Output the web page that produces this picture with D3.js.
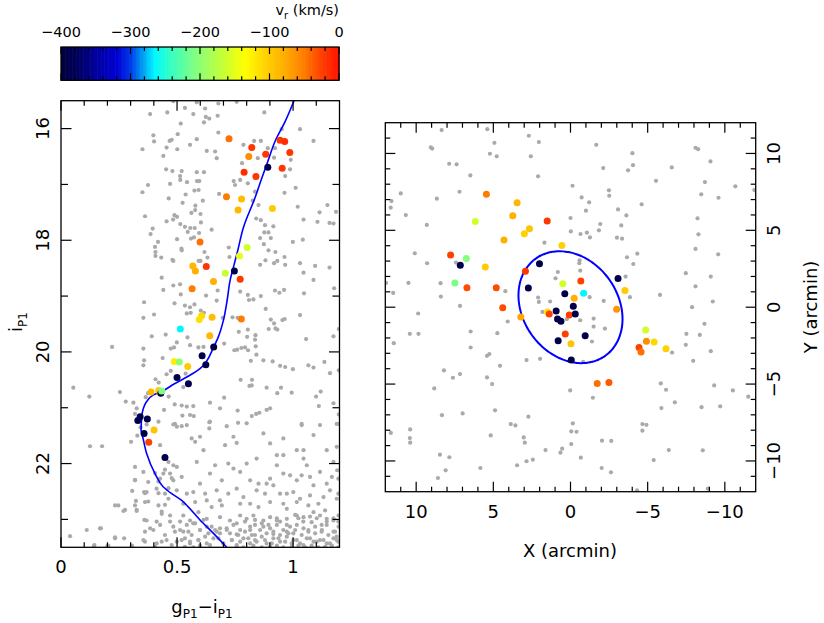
<!DOCTYPE html>
<meta charset="utf-8">
<script src="https://d3js.org/d3.v7.min.js"></script>
<style>
  body { margin: 0; background: #fff; }
  text { font-family: "DejaVu Sans", sans-serif; fill: #000; }
</style>
<div id="chart"></div>
<script>

// ---- data ----
// CMD: radial-velocity members [g-i, i, v_r]
var cmdMembers = [
  [0.724,16.18,-45],[0.822,16.34,-20],[0.809,16.50,-60],[0.882,16.46,-20],[0.944,16.21,-20],
  [0.964,16.23,-15],[0.986,16.43,-20],[0.891,16.69,-385],[0.953,16.71,-20],[0.789,16.78,-15],
  [0.840,16.86,-20],[0.713,17.22,-50],[0.778,17.26,-90],[0.763,17.46,-85],[0.911,17.43,-100],
  [0.599,18.03,-45],[0.802,18.13,-160],[0.769,18.28,-150],[0.568,18.46,-85],[0.579,18.55,-80],
  [0.626,18.47,-20],[0.708,18.59,-165],[0.747,18.55,-390],[0.772,18.70,-20],[0.657,18.74,-80],
  [0.565,18.87,-50],[0.606,19.35,-110],[0.596,19.42,-115],[0.651,19.38,-90],[0.777,19.41,-50],
  [0.514,19.59,-265],[0.641,19.71,-85],[0.658,19.91,-390],[0.608,20.07,-390],[0.624,20.23,-390],
  [0.488,20.17,-125],[0.510,20.18,-200],[0.546,20.26,-100],[0.500,20.46,-390],[0.549,20.57,-390],
  [0.388,20.72,-85],[0.421,20.69,-100],[0.430,20.74,-390],[0.434,20.70,-205],[0.341,21.16,-390],
  [0.331,21.23,-390],[0.372,21.20,-390],[0.401,21.40,-95],[0.358,21.46,-390],[0.378,21.62,-25],
  [0.448,21.89,-390]
];

// CMD: field stars [g-i, i]
var cmdField = [
  [0.484,15.51],[0.585,15.53],[0.757,15.52],[0.534,15.63],[0.621,15.64],[0.678,15.55],[0.384,15.74],
  [0.458,15.71],[0.570,15.74],[0.624,15.79],[0.639,15.82],[0.675,15.77],[0.616,15.89],[0.516,15.91],
  [0.876,15.71],[0.951,16.01],[1.030,16.01],[1.088,16.22],[0.398,16.12],[0.401,16.23],[0.477,16.20],
  [0.468,16.22],[0.503,16.10],[0.585,16.19],[0.556,16.29],[0.455,16.34],[0.501,16.37],[0.351,16.37],
  [0.628,16.40],[0.664,16.41],[0.671,16.53],[0.441,16.49],[0.678,16.07],[0.786,16.29],[0.832,16.22],
  [0.861,16.22],[0.891,16.35],[0.922,16.35],[0.780,16.62],[0.848,16.53],[0.918,16.52],[0.990,16.56],
  [0.966,16.85],[0.987,16.73],[0.453,16.73],[0.480,16.76],[0.520,16.76],[0.513,16.85],[0.585,16.78],
  [0.616,16.78],[0.514,16.92],[0.586,16.94],[0.596,16.94],[0.543,16.96],[0.375,17.01],[0.470,16.99],
  [0.744,16.94],[0.750,17.01],[0.772,16.92],[0.805,16.98],[0.351,17.14],[0.537,17.18],[0.575,17.11],
  [0.593,17.10],[0.681,17.17],[0.836,17.13],[0.963,17.15],[1.011,17.06],[0.464,17.25],[0.524,17.33],
  [0.579,17.38],[0.611,17.29],[0.362,17.57],[0.489,17.55],[0.500,17.58],[0.455,17.66],[0.483,17.63],
  [0.514,17.71],[0.534,17.76],[0.562,17.51],[0.578,17.46],[0.601,17.53],[0.603,17.68],[0.546,17.85],
  [0.557,17.78],[0.576,17.78],[0.649,17.81],[0.395,17.79],[0.386,17.89],[0.418,18.03],[0.407,18.21],
  [0.407,18.28],[0.405,18.12],[0.432,18.31],[0.480,18.35],[0.500,17.98],[0.560,17.97],[0.573,17.95],
  [0.595,17.87],[0.519,18.15],[0.520,18.18],[0.618,18.21],[0.631,18.31],[0.601,18.37],[0.723,18.13],
  [0.726,18.30],[0.841,17.61],[0.861,17.64],[0.879,17.73],[0.876,17.86],[0.858,17.96],[0.904,17.96],
  [0.894,17.86],[0.915,17.75],[0.874,18.07],[0.881,18.36],[0.894,18.18],[0.932,18.37],[0.963,18.30],
  [0.924,18.21],[0.999,18.03],[1.045,17.63],[1.042,17.99],[1.020,17.40],[1.105,17.67],[1.148,17.37],
  [1.157,17.69],[1.174,17.70],[1.185,17.49],[1.114,17.50],[0.851,17.37],[0.826,17.29],
  [0.484,18.37],[0.593,18.37],[0.858,18.44],[0.918,18.41],[0.966,18.44],[1.030,18.41],[1.095,18.46],
  [1.157,18.49],[0.434,18.67],[0.484,18.81],[0.513,18.79],[0.516,18.97],[0.441,18.89],[0.675,18.90],
  [0.625,18.99],[0.772,18.92],[0.805,18.98],[0.810,19.07],[0.829,19.06],[0.861,19.00],[0.882,19.23],
  [0.922,18.90],[0.941,18.94],[0.961,18.89],[1.045,18.58],[1.047,18.95],[1.088,18.71],[1.177,18.86],
  [0.358,19.11],[0.401,19.33],[0.355,19.39],[0.489,19.13],[0.534,19.17],[0.556,19.20],[0.575,19.15],
  [0.602,19.26],[0.671,19.08],[0.542,19.31],[0.559,19.30],[0.616,19.30],[0.697,19.39],[0.739,19.38],
  [0.761,19.39],[0.766,19.64],[0.805,19.60],[0.802,19.73],[0.838,19.70],[0.836,19.78],[0.904,19.42],
  [0.895,19.59],[0.918,19.49],[0.924,19.58],[0.954,19.43],[0.964,19.41],[0.932,19.60],[1.030,19.34],
  [1.056,19.77],[1.174,19.72],[1.197,19.59],[0.220,19.91],[0.355,19.94],[0.391,19.72],[0.451,19.69],
  [0.473,19.94],[0.487,19.92],[0.499,19.83],[0.545,19.74],[0.556,19.88],[0.592,19.92],[0.614,19.91],
  [0.703,19.85],[0.747,19.97],[0.759,19.96],[0.777,19.93],[0.793,19.92],[0.806,19.97],[0.839,19.90],
  [0.842,20.05],[0.818,20.16],[0.872,20.15],[0.912,20.17],[0.944,20.25],[0.966,20.27],[0.999,20.31],
  [1.066,20.24],[1.088,20.28],[1.135,20.18],[1.159,20.38],[1.197,20.33],[0.358,20.15],[0.438,20.11],
  [0.355,20.24],[0.407,20.49],[0.421,20.55],[0.455,20.40],[0.473,20.34],[0.537,20.39],[0.527,20.63],
  [0.254,20.72],[0.279,20.89],[0.122,20.80],[0.053,20.64],[0.326,21.01],[0.312,20.91],[0.365,20.81],
  [0.375,20.74],[0.464,20.80],[0.490,20.94],[0.520,20.96],[0.542,20.98],[0.570,20.97],[0.642,20.91],
  [0.639,21.26],[0.639,21.37],[0.685,21.01],[0.703,20.82],[0.774,20.50],[0.812,20.61],[0.822,20.60],
  [0.823,20.50],[0.886,20.64],[0.932,20.74],[0.948,20.64],[0.994,20.73],[1.119,20.71],[1.099,20.80],
  [1.174,20.92],[1.111,20.97],[0.855,21.09],[0.901,21.01],[0.886,21.04],[0.761,21.05],[0.763,21.27],
  [0.822,21.15],[0.841,21.11],[1.037,21.31],[1.197,21.12],[1.197,21.29],[0.523,21.14],[0.556,21.13],
  [0.572,21.15],[0.484,21.30],[0.499,21.34],[0.369,21.30],[0.343,21.35],[0.319,21.11],[0.542,21.31],
  [0.444,21.04],
  [0.125,21.69],[0.177,21.69],[0.039,23.30],[0.111,23.19],[0.168,23.16],[0.233,23.32],[0.272,23.34],
  [0.319,22.30],[0.323,22.67],[0.358,22.51],[0.319,22.75],[0.247,22.75],[0.276,22.83],[0.326,22.83],
  [0.142,23.48],[0.200,23.48],[0.306,23.48],[0.302,21.61],[0.329,21.50],[0.319,22.06],[0.355,22.15],
  [0.376,22.33],
  [0.420,21.25],[0.491,21.29],[0.520,21.33],[0.642,21.25],[0.714,21.33],[0.800,21.28],[1.037,21.29],
  [1.116,21.31],[1.188,21.29],[0.563,21.55],[0.599,21.52],[0.743,21.52],[0.872,21.46],[0.958,21.55],
  [1.088,21.49],
  [0.427,21.67],[0.578,21.61],[0.614,21.76],[0.707,21.67],[0.757,21.63],[0.901,21.64],[1.016,21.76],
  [1.045,21.76],[1.145,21.76],[1.188,21.70],[0.463,21.97],[0.484,22.03],[0.499,22.06],[0.585,21.97],
  [0.664,22.03],[0.721,22.00],[0.743,22.09],[0.800,22.00],[0.843,21.91],[0.930,21.85],[0.958,21.85],
  [0.930,22.03],[1.045,21.91],[1.059,22.03],[1.116,22.15],[1.174,21.97],[1.190,22.12],[0.441,22.18],
  [0.470,22.18],[0.484,22.30],[0.427,22.27],[0.520,22.24],[0.599,22.36],[0.642,22.18],[0.693,22.30],
  [0.772,22.15],[0.815,22.30],[0.851,22.36],[0.886,22.36],[0.901,22.27],[0.915,22.39],[0.958,22.18],
  [0.987,22.21],[1.016,22.30],[1.037,22.21],[1.073,22.24],[1.088,22.39],[1.145,22.36],[1.167,22.24],
  [1.195,22.27],[0.369,22.51],[0.412,22.45],[0.448,22.54],[0.499,22.48],[0.542,22.54],[0.570,22.51],
  [0.621,22.54],[0.671,22.48],[0.721,22.54],[0.757,22.45],[0.786,22.60],[0.843,22.48],[0.879,22.54],
  [0.944,22.54],[0.973,22.54],[1.001,22.51],[1.030,22.63],[1.073,22.57],[1.131,22.60],[1.159,22.48],
  [1.195,22.54],[0.362,22.69],[0.420,22.75],[0.463,22.63],[0.527,22.72],[0.578,22.69],[0.628,22.66],
  [0.649,22.78],[0.685,22.66],[0.693,22.75],[0.772,22.72],[0.815,22.72],[0.851,22.78],[0.901,22.69],
  [0.958,22.72],[0.973,22.81],[1.016,22.69],[1.066,22.75],[1.109,22.72],[1.138,22.84],[1.188,22.63],
  [0.369,23.02],[0.434,22.90],[0.470,22.93],[0.527,22.93],[0.556,23.02],[0.592,22.87],[0.628,22.99],
  [0.685,22.96],[0.728,23.02],[0.772,22.93],[0.800,22.99],[0.829,22.93],[0.872,23.02],[0.901,22.96],
  [0.930,23.02],[0.973,22.99],[1.016,22.93],[1.045,22.96],[1.088,22.87],[1.116,22.93],[1.145,22.99],
  [1.174,23.02],[1.196,22.93],[1.080,23.05],[0.384,23.16],[0.427,23.10],[0.484,23.13],[0.513,23.19],
  [0.549,23.22],[0.570,23.07],[0.599,23.19],[0.628,23.13],[0.664,23.19],[0.714,23.16],[0.743,23.10],
  [0.772,23.19],[0.815,23.19],[0.836,23.10],[0.872,23.13],[0.901,23.16],[0.930,23.10],[0.958,23.19],
  [0.987,23.13],[1.016,23.10],[1.045,23.16],[1.066,23.22],[1.095,23.13],[1.124,23.19],[1.145,23.10],
  [1.174,23.22],[1.196,23.13],[1.188,23.31],[0.355,23.37],[0.412,23.43],[0.455,23.37],[0.499,23.40],
  [0.534,23.34],[0.556,23.43],[0.592,23.37],[0.621,23.31],[0.642,23.46],[0.678,23.34],[0.700,23.43],
  [0.736,23.37],[0.757,23.46],[0.786,23.34],[0.815,23.43],[0.836,23.37],[0.865,23.31],[0.886,23.43],
  [0.915,23.34],[0.944,23.40],[0.973,23.31],[0.994,23.43],[1.016,23.37],[1.045,23.46],[1.073,23.34],
  [1.102,23.40],[1.131,23.37],[1.159,23.43],[1.188,23.37],[1.001,23.25],[0.973,23.22],[0.915,23.26],
  [0.836,23.28],[0.757,23.27],[0.685,23.25],
  [0.513,23.04],[0.542,23.10],[0.578,23.07],[0.614,23.01],[0.649,23.13],[0.685,23.16],[0.714,23.19],
  [0.757,23.07],[0.793,23.04],[0.815,23.13],[0.836,23.01],[0.865,23.07],[0.894,23.10],[0.930,22.98],
  [0.944,23.04],[0.973,23.10],[1.009,22.92],[1.023,22.98],[1.044,23.04],[1.073,22.95],[1.102,22.98],
  [1.123,23.10],[1.145,23.04],[1.174,22.98],[1.195,23.04],
  [0.527,23.22],[0.563,23.28],[0.599,23.19],[0.635,23.25],[0.671,23.22],[0.728,23.25],[0.764,23.28],
  [0.793,23.22],[0.822,23.28],[0.858,23.19],[0.886,23.25],[0.915,23.22],[0.944,23.28],[0.980,23.25],
  [1.009,23.19],[1.037,23.28],[1.066,23.19],[1.095,23.25],[1.123,23.22],[1.152,23.28],[1.181,23.22],
  [0.520,23.37],[0.556,23.40],[0.592,23.37],[0.628,23.43],[0.657,23.34],[0.736,23.37],[0.772,23.40],
  [0.807,23.34],[0.843,23.40],[0.879,23.37],[0.908,23.43],[0.937,23.34],[0.966,23.40],[1.001,23.37],
  [1.030,23.43],[1.059,23.34],[1.088,23.40],[1.116,23.37],[1.145,23.43],[1.174,23.34],[1.195,23.40],
  [0.534,23.49],[0.570,23.50],[0.599,23.47],[0.757,23.49],[0.786,23.50],[0.829,23.47],[0.865,23.50],
  [0.901,23.49],[0.930,23.47],[0.958,23.50],[0.994,23.49],[1.023,23.47],[1.052,23.50],[1.080,23.47],
  [1.109,23.50],[1.138,23.49],[1.167,23.47],[1.195,23.50],
  [0.319,22.29],[0.307,22.49],[0.362,22.53],[0.376,22.68],[0.233,22.75],[0.269,22.85],[0.326,22.85],
  [0.359,23.01],[0.398,23.19],[0.362,23.22],[0.172,23.16],[0.233,23.34],[0.144,23.46],[0.204,23.47],
  [0.305,23.47],[0.362,23.40],[0.405,23.49],[0.434,23.40],[0.477,23.46],[0.448,23.28],[0.491,23.22],
  [0.412,23.04],[0.434,22.86],[0.448,22.74],[0.470,23.04],[0.420,22.53],[0.420,22.32],[0.463,22.44],
  [0.405,22.17],[0.477,22.26],[0.448,22.11]
];

// isochrone [g-i, i]
var isochrone = [
  [1.004,15.50],[0.966,15.87],[0.922,16.23],[0.891,16.59],[0.865,16.89],[0.836,17.24],[0.786,17.77],
  [0.760,18.21],[0.745,18.45],
  [0.729,18.71],[0.716,19.07],[0.700,19.43],[0.678,19.73],[0.657,19.92],[0.625,20.18],[0.599,20.30],
  [0.542,20.45],[0.485,20.58],[0.442,20.69],[0.398,20.77],[0.369,20.89],[0.355,21.01],[0.348,21.16],
  [0.345,21.40],[0.352,21.52],[0.369,21.82],[0.405,22.18],[0.441,22.42],[0.477,22.54],[0.520,22.66],
  [0.549,22.78],[0.599,23.01],[0.657,23.25],[0.714,23.50]
];

// sky map: members [X, Y, v_r] (arcmin)
var mapMembers = [
  [5.45,7.34,-50],[3.46,6.79,-85],[6.17,5.58,-160],[3.74,5.95,-80],[1.51,5.60,-20],[2.66,5.10,-95],
  [2.99,4.78,-105],[4.31,4.37,-80],[0.56,4.02,-105],[7.77,3.40,-25],[6.75,3.16,-205],[7.14,2.73,-390],
  [5.52,2.62,-100],[2.01,2.83,-390],[2.92,2.34,-20],[7.49,1.58,-210],[6.71,1.27,-30],[4.81,1.27,-30],
  [2.73,1.25,-390],[0.50,1.53,-160],[-0.67,1.71,-25],[-3.08,1.86,-390],[0.37,0.88,-390],[-0.85,0.91,-265],
  [-3.53,1.08,-100],[-0.24,0.58,-80],[-0.18,0.06,-390],[4.39,-0.03,-30],[3.22,-0.63,-75],[0.93,-0.24,-390],
  [1.49,-0.31,-115],[1.38,-0.44,-25],[0.08,-0.50,-25],[-0.31,-0.44,-390],[-2.99,-0.13,-65],[0.84,-0.76,-390],
  [0.62,-0.91,-390],[0.34,-1.75,-25],[-0.95,-1.86,-390],[0.80,-2.19,-390],[-0.03,-2.38,-95],[-0.05,-3.44,-390],
  [-4.87,-1.49,-160],[-4.92,-2.21,-60],[-5.42,-2.27,-110],[-6.19,-2.71,-105],[-4.44,-2.62,-25],[-4.57,-2.92,-45],
  [-1.73,-4.96,-45],[-2.49,-4.89,-35]
];

// sky map: field stars [X, Y]
var mapField = [
  [8.35,11.52],[5.39,11.58],[2.70,11.15],[4.93,10.69],[2.05,10.74],[9.05,10.39],[8.96,10.32],[-1.67,10.56],
  [5.22,9.98],[4.78,9.81],[2.57,9.81],[-4.01,10.02],[7.86,9.33],[7.38,9.29],[-2.12,9.05],[-4.05,9.24],
  [-3.73,8.90],[-9.07,9.48],[-8.10,10.37],[-8.27,10.28],[6.49,8.57],[2.10,8.51],[-6.56,9.09],[-5.54,8.22],
  [-8.71,8.14],[-10.68,7.86],[-11.91,7.62],[11.00,7.40],[7.19,7.51],[-0.13,7.90],[-2.49,7.60],[-2.51,7.25],
  [-8.47,7.34],[-9.59,7.12],[11.60,6.90],[11.65,6.47],[8.66,7.06],[-0.72,7.14],[-1.21,6.82],[-1.00,6.28],
  [-4.61,6.69],[-3.08,6.36],[-3.62,5.97],[10.67,5.99],[9.31,5.35],[0.00,5.80],[-1.93,5.41],[-1.84,5.00],
  [-3.29,5.32],[-0.02,4.93],[-0.65,4.76],[-1.06,4.85],[-1.26,4.54],[-3.01,4.52],[-3.34,4.46],[-8.23,5.78],
  [-8.29,4.74],[-8.10,3.79],[-9.57,3.44],[10.09,3.51],[1.69,4.20],[-0.59,3.05],[-0.57,2.86],[-3.66,3.25],
  [-4.33,3.48],[-4.07,2.81],[9.29,2.86],[7.42,2.90],[10.50,1.58],[11.95,1.58],[8.42,1.56],[0.82,2.29],
  [-0.63,2.38],[0.97,1.88],[-3.57,1.99],[-7.47,2.21],[-8.10,1.36],[-9.09,1.99],[-5.80,0.80],[11.49,0.93],
  [8.40,0.69],[4.22,1.04],[2.10,0.63],
  [7.16,0.08],[9.87,-0.41],[10.41,-1.73],[9.85,-1.73],[11.45,-2.34],[6.47,-1.58],[6.47,-2.62],[4.74,-1.69],
  [4.07,-0.93],[5.41,-3.16],[5.26,-3.05],[4.57,-3.81],[2.85,-3.44],[1.97,-3.36],[2.05,0.34],[1.32,0.37],
  [1.82,-0.31],[0.24,-0.78],[-0.63,-0.85],[-1.50,-0.74],[-1.50,-1.26],[-2.23,-1.39],[-1.39,-2.23],[-0.82,-3.55],
  [-2.15,0.41],[-1.24,0.65],[-3.85,0.65],[-9.22,0.37],[-7.88,0.00],[-8.68,-1.08],[-7.51,-1.73],[-8.38,-1.80],
  [-7.47,-2.45],[-9.09,-2.86],[-7.95,-3.49],[-6.58,-2.95],[8.20,-4.11],[7.62,-4.59],[7.16,-4.35],[8.83,-5.28],
  [5.41,-4.57],[5.08,-5.00],[0.02,-5.41],[-1.45,-5.89],[-5.85,-4.96],[-6.19,-5.37],[-6.76,-6.19],[-5.89,-6.56],
  [-8.49,-6.50],[-9.70,-6.45],[-9.31,-5.09],[-10.52,-5.41],[-11.52,-5.82],[8.33,-7.02],[6.99,-6.91],[4.89,-6.71],
  [3.87,-7.60],[3.57,-7.69],[2.73,-7.12],[5.17,-8.34],[3.03,-8.47],[2.96,-8.81],[10.39,-7.95],[10.41,-8.51],
  [10.39,-8.81],[11.64,-8.18],[-0.15,-7.56],[-0.05,-8.08],[-0.39,-8.10],[-0.05,-8.90],[1.62,-9.29],[0.54,-9.20],
  [0.65,-9.46],[-0.67,-9.79],[-2.04,-8.68],[-2.64,-8.70],[-4.66,-7.60],[-4.92,-7.65],[-4.66,-8.03],[-5.39,-9.94],
  [-6.37,-9.29],[-8.57,-9.31],[2.85,-10.02],[2.44,-9.92],[3.46,-10.28],[5.84,-10.46],[8.46,-9.59],[7.85,-9.76],
  [8.09,-10.61],[8.59,-11.11],[-2.02,-10.46],[-2.62,-10.74],[-4.31,-11.91],[-8.90,-11.80]
];

// half-light ellipse (arcmin, degrees)
var ellA = 3.88, ellB = 3.09, ellPA = 35;

// tick values
var vTicks = [-400, -300, -200, -100, 0];
var cmdXTicks = [0, 0.5, 1];
var cmdYTicks = [16, 18, 20, 22];
var mapTicks = [-10, -5, 0, 5, 10];

// ---- scales ----
var svg = d3.select("#chart").append("svg")
  .attr("width", 824).attr("height", 623);

var xC = d3.scaleLinear().domain([0, 1.2]).range([61, 339.5]);
var yC = d3.scaleLinear().domain([15.5, 23.5]).range([100.7, 547.3]);
var xS = d3.scaleLinear().domain([12, -12]).range([385.3, 755.7]);
var yS = d3.scaleLinear().domain([-12, 12]).range([491.7, 122.7]);
var xV = d3.scaleLinear().domain([-400, 0]).range([61, 339]);

var color = d3.scaleLinear()
  .domain([-400, -375, -345, -320, -300, -285, -265, -245, -215, -190, -165, -135, -110, -80, -50, -25, 0])
  .range(["#00003c", "#000060", "#0000a8", "#0000d2", "#0038e8", "#0090f4", "#00f8ff", "#30ffc8",
          "#70ff90", "#a0ff60", "#c8ff30", "#ffff00", "#ffd800", "#ffb000", "#ff7c00", "#ff4000", "#ff1000"])
  .clamp(true);

var grey = "#aaaaaa";

// inner ticks on a frame side
function ticks(g, scale, vals, side, len, x0, y0) {
  g.selectAll(null).data(vals).enter().append("line")
    .attr("x1", function(d){ return side == "b" || side == "t" ? scale(d) : x0; })
    .attr("x2", function(d){ return side == "b" || side == "t" ? scale(d) : x0 + (side == "l" ? len : -len); })
    .attr("y1", function(d){ return side == "l" || side == "r" ? scale(d) : y0; })
    .attr("y2", function(d){ return side == "l" || side == "r" ? scale(d) : y0 + (side == "t" ? len : -len); })
    .attr("stroke", "#000").attr("stroke-width", 1.2);
}

// ---- colour bar ----
var bar = svg.append("g");
bar.selectAll("rect").data(d3.range(-400, 0, 2)).enter().append("rect")
  .attr("x", function(d){ return xV(d); })
  .attr("y", 47).attr("height", 33.3)
  .attr("width", xV(2) - xV(0) + 0.6)
  .attr("fill", function(d){ return color(d + 1); });
bar.append("rect").attr("x", 61).attr("y", 47).attr("width", 278).attr("height", 33.3)
  .attr("fill", "none").attr("stroke", "#000").attr("stroke-width", 1.3);
var vMinor = d3.range(-380, 0, 20).filter(function(d){ return d % 100 != 0; });
ticks(bar, xV, vMinor, "t", 4, 0, 47);
ticks(bar, xV, vMinor, "b", 4, 0, 80.3);
ticks(bar, xV, vTicks, "t", 7, 0, 47);
ticks(bar, xV, vTicks, "b", 7, 0, 80.3);
bar.selectAll("text.lab").data(vTicks).enter().append("text")
  .attr("x", function(d){ return xV(d); }).attr("y", 37)
  .attr("text-anchor", "middle").style("font-size", "14.5px")
  .text(d3.format("d"));
var vt = bar.append("text").attr("x", 339).attr("y", 15)
  .attr("text-anchor", "end").style("font-size", "14.5px");
vt.append("tspan").text("v");
vt.append("tspan").attr("dy", 4).style("font-size", "10px").text("r");
vt.append("tspan").attr("dy", -4).text(" (km/s)");

// ---- CMD panel ----
var cmd = svg.append("g");
cmd.append("clipPath").attr("id", "clipC").append("rect")
  .attr("x", 61).attr("y", 100.7).attr("width", 278.5).attr("height", 446.6);
var cmdIn = cmd.append("g").attr("clip-path", "url(#clipC)");

cmdIn.selectAll("circle.f").data(cmdField).enter().append("circle")
  .attr("cx", function(d){ return xC(d[0]); })
  .attr("cy", function(d){ return yC(d[1]); })
  .attr("r", 2.1).attr("fill", grey);

cmdIn.append("path").datum(isochrone)
  .attr("d", d3.line()
    .x(function(d){ return xC(d[0]); })
    .y(function(d){ return yC(d[1]); })
    .curve(d3.curveMonotoneY))
  .attr("fill", "none").attr("stroke", "#0000ff").attr("stroke-width", 1.6);

cmdIn.selectAll("circle.m").data(cmdMembers).enter().append("circle")
  .attr("cx", function(d){ return xC(d[0]); })
  .attr("cy", function(d){ return yC(d[1]); })
  .attr("r", 3.5).attr("fill", function(d){ return color(d[2]); });

cmd.append("rect").attr("x", 61).attr("y", 100.7).attr("width", 278.5).attr("height", 446.6)
  .attr("fill", "none").attr("stroke", "#000").attr("stroke-width", 1.3);

var cxMinor = d3.range(1, 12).map(function(i){ return i / 10; }).filter(function(d){ return Math.abs(d - 0.5) > 1e-6 && Math.abs(d - 1) > 1e-6; });
ticks(cmd, xC, cxMinor, "b", 5, 0, 547.3);
ticks(cmd, xC, cxMinor, "t", 5, 0, 100.7);
ticks(cmd, xC, cmdXTicks, "b", 10, 0, 547.3);
ticks(cmd, xC, cmdXTicks, "t", 10, 0, 100.7);
var cyMinor = [17, 19, 21, 23];
ticks(cmd, yC, cyMinor, "l", 7, 61, 0);
ticks(cmd, yC, cyMinor, "r", 7, 339.5, 0);
ticks(cmd, yC, cmdYTicks, "l", 10.5, 61, 0);
ticks(cmd, yC, cmdYTicks, "r", 10.5, 339.5, 0);

cmd.selectAll("text.x").data(cmdXTicks).enter().append("text")
  .attr("x", function(d){ return xC(d); }).attr("y", 573)
  .attr("text-anchor", "middle").style("font-size", "18px")
  .text(function(d){ return String(d); });
cmd.selectAll("text.y").data(cmdYTicks).enter().append("text")
  .attr("transform", function(d){ return "translate(49," + yC(d) + ") rotate(-90)"; })
  .attr("text-anchor", "middle").style("font-size", "18px")
  .text(function(d){ return String(d); });

var xl = cmd.append("text").attr("x", 202).attr("y", 613)
  .attr("text-anchor", "middle").style("font-size", "18px");
xl.append("tspan").text("g");
xl.append("tspan").attr("dy", 5).style("font-size", "12px").text("P1");
xl.append("tspan").attr("dy", -5).text("\u2212i");
xl.append("tspan").attr("dy", 5).style("font-size", "12px").text("P1");

var yl = cmd.append("text").attr("transform", "translate(22,322) rotate(-90)")
  .attr("text-anchor", "middle").style("font-size", "18px");
yl.append("tspan").text("i");
yl.append("tspan").attr("dy", 5).style("font-size", "12px").text("P1");

// ---- sky map panel ----
var map = svg.append("g");
map.append("clipPath").attr("id", "clipS").append("rect")
  .attr("x", 385.3).attr("y", 122.7).attr("width", 370.4).attr("height", 369);
var mapIn = map.append("g").attr("clip-path", "url(#clipS)");

mapIn.selectAll("circle.f").data(mapField).enter().append("circle")
  .attr("cx", function(d){ return xS(d[0]); })
  .attr("cy", function(d){ return yS(d[1]); })
  .attr("r", 2.1).attr("fill", grey);

var pa = ellPA * Math.PI / 180;
var ell = d3.range(0, 361, 3).map(function(t) {
  var a = t * Math.PI / 180;
  var u = ellA * Math.cos(a), v = ellB * Math.sin(a);
  return [u * Math.sin(pa) + v * Math.cos(pa), u * Math.cos(pa) - v * Math.sin(pa)];
});
mapIn.append("path").datum(ell)
  .attr("d", d3.line()
    .x(function(d){ return xS(d[0]); })
    .y(function(d){ return yS(d[1]); })
    .curve(d3.curveCardinalClosed))
  .attr("fill", "none").attr("stroke", "#0000ff").attr("stroke-width", 2);

mapIn.selectAll("circle.m").data(mapMembers).enter().append("circle")
  .attr("cx", function(d){ return xS(d[0]); })
  .attr("cy", function(d){ return yS(d[1]); })
  .attr("r", 3.5).attr("fill", function(d){ return color(d[2]); });

map.append("rect").attr("x", 385.3).attr("y", 122.7).attr("width", 370.4).attr("height", 369)
  .attr("fill", "none").attr("stroke", "#000").attr("stroke-width", 1.3);

var mMinor = d3.range(-11, 12).filter(function(d){ return d % 5 != 0; });
ticks(map, xS, mMinor, "b", 5, 0, 491.7);
ticks(map, xS, mMinor, "t", 5, 0, 122.7);
ticks(map, xS, mapTicks, "b", 10, 0, 491.7);
ticks(map, xS, mapTicks, "t", 10, 0, 122.7);
ticks(map, yS, mMinor, "l", 5, 385.3, 0);
ticks(map, yS, mMinor, "r", 5, 755.7, 0);
ticks(map, yS, mapTicks, "l", 10, 385.3, 0);
ticks(map, yS, mapTicks, "r", 10, 755.7, 0);

map.selectAll("text.x").data(mapTicks).enter().append("text")
  .attr("x", function(d){ return xS(d); }).attr("y", 517.5)
  .attr("text-anchor", "middle").style("font-size", "18px")
  .text(d3.format("d"));
map.selectAll("text.y").data(mapTicks).enter().append("text")
  .attr("transform", function(d){ return "translate(780," + yS(d) + ") rotate(-90)"; })
  .attr("text-anchor", "middle").style("font-size", "18px")
  .text(d3.format("d"));

map.append("text").attr("x", 570).attr("y", 556.5)
  .attr("text-anchor", "middle").style("font-size", "18px").text("X (arcmin)");
map.append("text").attr("transform", "translate(817,307) rotate(-90)")
  .attr("text-anchor", "middle").style("font-size", "18px").text("Y (arcmin)");

</script>
